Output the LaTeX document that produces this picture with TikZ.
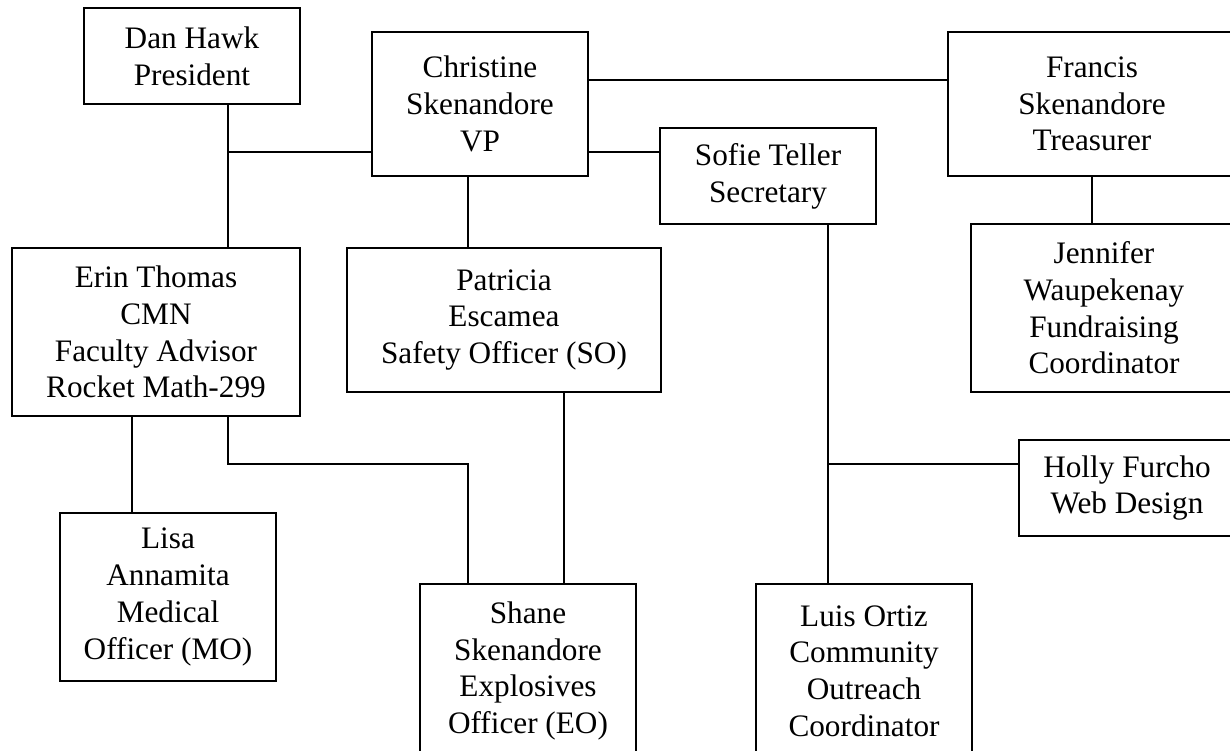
\documentclass[tikz,border=0pt]{standalone}
\usepackage{fontspec}
\setmainfont{Liberation Serif}
\usepackage{tikz}

\tikzset{
  member/.style={draw, line width=0.6pt, align=center, inner sep=0pt,
    font=\fontsize{12.5}{14.7}\selectfont},
  tie/.style={line width=0.6pt}
}

\begin{document}
\begin{tikzpicture}[x=0.4pt, y=-0.4pt]

\useasboundingbox (0,0) rectangle (1230,751);
\clip (0,0) rectangle (1230,751);
\fill [white] (0,0) rectangle (1230,751);

\node [member, minimum width=216*0.4pt, minimum height=96*0.4pt] (hawk) at (192,56) {Dan Hawk\\President};
\node [member, minimum width=216*0.4pt, minimum height=144*0.4pt] (vp) at (480,104) {Christine\\Skenandore\\VP};
\node [member, minimum width=288*0.4pt, minimum height=144*0.4pt] (treas) at (1092,104) {Francis\\Skenandore\\Treasurer};
\node [member, minimum width=216*0.4pt, minimum height=96*0.4pt] (sec) at (768,176) {Sofie Teller\\Secretary};

\node [member, minimum width=288*0.4pt, minimum height=168*0.4pt] (erin) at (156,332) {Erin Thomas\\CMN\\Faculty Advisor\\Rocket Math-299};
\node [member, minimum width=314*0.4pt, minimum height=144*0.4pt] (safety) at (504,320) {Patricia\\Escamea\\Safety Officer (SO)};
\node [member, minimum width=266*0.4pt, minimum height=168*0.4pt] (fund) at (1104,308) {Jennifer\\Waupekenay\\Fundraising\\Coordinator};
\node [member, minimum width=216*0.4pt, minimum height=96*0.4pt] (web) at (1127,488) {Holly Furcho\\Web Design};

\node [member, minimum width=216*0.4pt, minimum height=168*0.4pt] (medical) at (168,597) {Lisa\\Annamita\\Medical\\Officer (MO)};
\node [member, minimum width=216*0.4pt, minimum height=174*0.4pt] (explos) at (528,671) {Shane\\Skenandore\\Explosives\\Officer (EO)};
\node [member, minimum width=216*0.4pt, minimum height=174*0.4pt] (outreach) at (864,671) {Luis Ortiz\\Community\\Outreach\\Coordinator};

\coordinate (hawkjoin) at (228,152);
\coordinate (toptie) at (700,80);
\coordinate (elbow) at (468,464);
\coordinate (secjoin) at (828,464);
\coordinate (mojoin) at (132,464);
\coordinate (sojoin) at (564,464);

\draw [tie] (hawkjoin |- hawk.south) -- (hawkjoin |- erin.north);
\draw [tie] (hawkjoin) -- (vp.west |- hawkjoin);
\draw [tie] (vp.east |- toptie) -- (treas.west |- toptie);
\draw [tie] (vp.east |- hawkjoin) -- (sec.west |- hawkjoin);
\draw [tie] (elbow |- vp.south) -- (elbow |- safety.north);
\draw [tie] (treas.south) -- (treas.south |- fund.north);
\draw [tie] (secjoin |- sec.south) -- (secjoin |- outreach.north);
\draw [tie] (secjoin) -- (web.west |- secjoin);
\draw [tie] (mojoin |- erin.south) -- (mojoin |- medical.north);
\draw [tie] (hawkjoin |- erin.south) -- (hawkjoin |- elbow) -- (elbow) -- (elbow |- explos.north);
\draw [tie] (sojoin |- safety.south) -- (sojoin |- explos.north);
\end{tikzpicture}
\end{document}
